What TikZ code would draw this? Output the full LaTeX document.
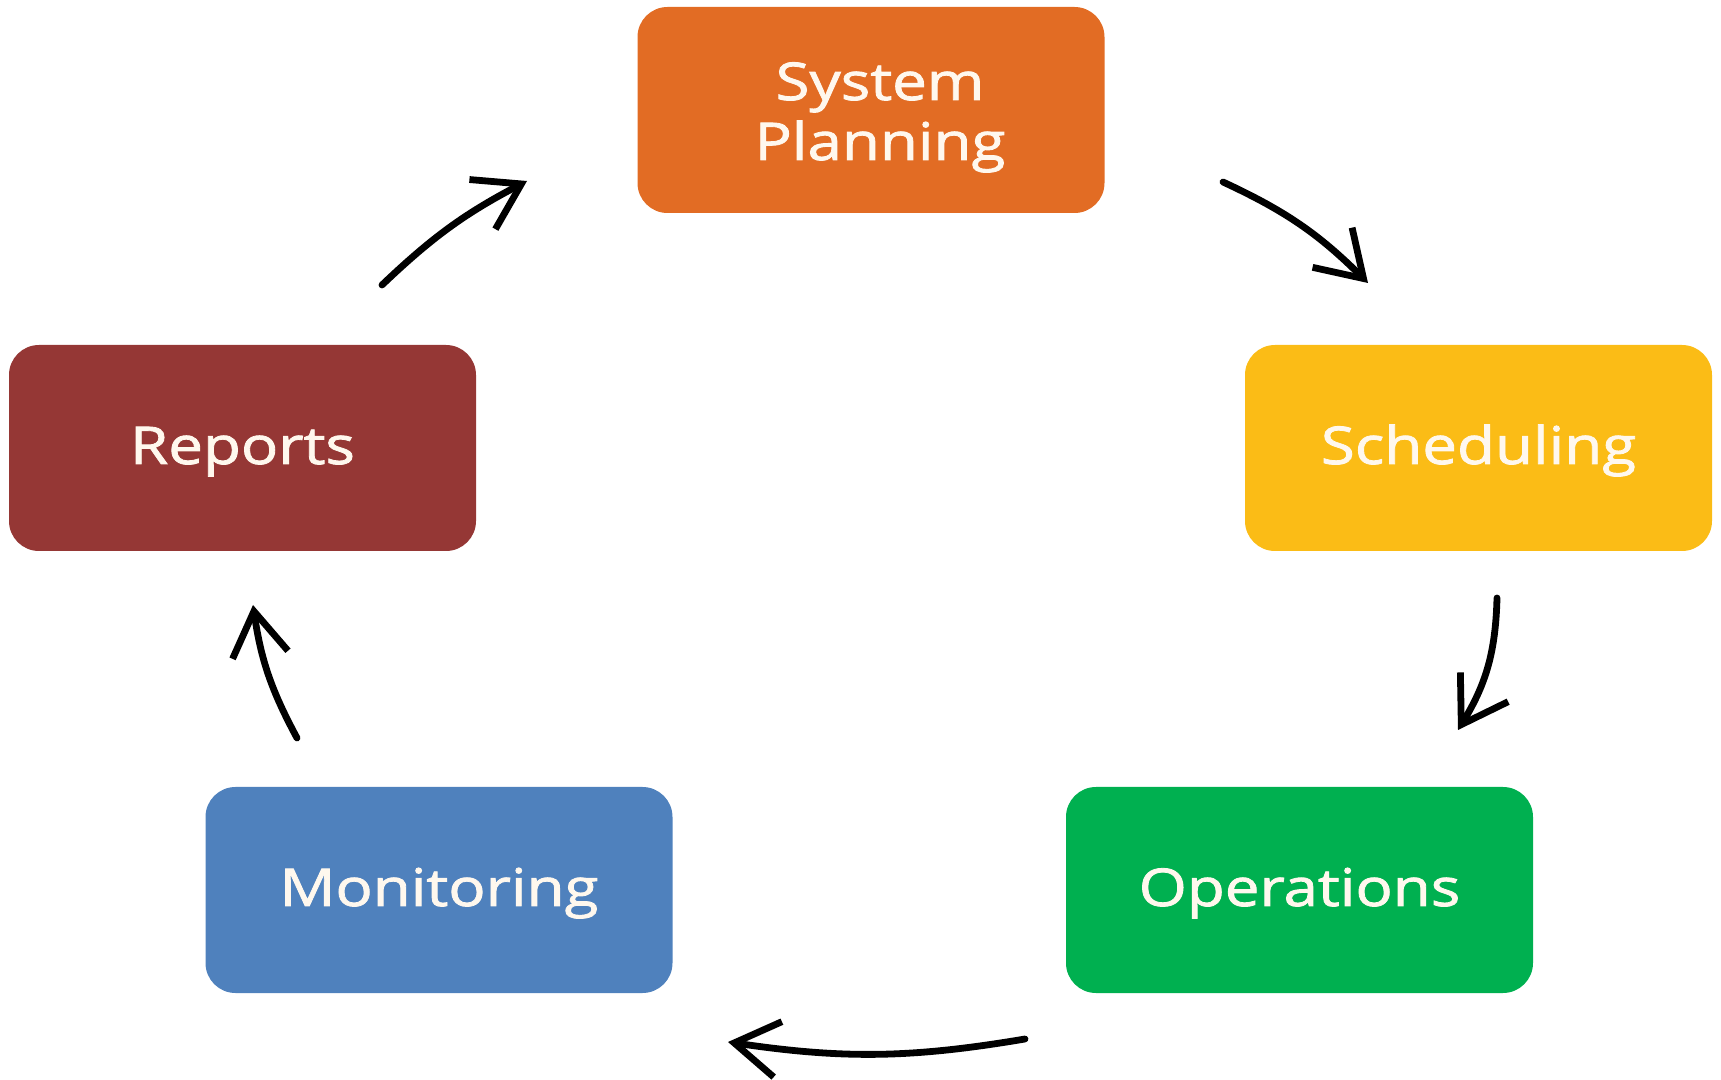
\documentclass[tikz,border=0pt]{standalone}
\usepackage{fontspec}
\setmainfont[FakeBold=1.6,FakeStretch=1.19]{Open Sans}
\usetikzlibrary{arrows.meta}
\definecolor{cplan}{HTML}{E26C24}
\definecolor{csched}{HTML}{FBBC16}
\definecolor{cops}{HTML}{00B050}
\definecolor{cmon}{HTML}{4F81BD}
\definecolor{crep}{HTML}{953735}
\definecolor{ctext}{HTML}{FFF8EE}
\newcommand\stagelabel[2]{\raisebox{#1}[\height][\depth]{\begin{tabular}{@{}c@{}}#2\end{tabular}}}
\tikzset{
  stage/.style={rectangle, rounded corners=15pt, minimum width=233.5pt, minimum height=103pt,
    inner sep=0pt, text=ctext, font=\fontsize{26}{30}\selectfont},
  flow/.style={line width=3.4pt, line cap=round, line join=round,
    -{Straight Barb[length=22pt,width=28pt,line width=3.4pt]}}
}
\begin{document}
\begin{tikzpicture}[x=0.5pt,y=-0.5pt]
\useasboundingbox (0,0) rectangle (1721,1080);
\node[stage, fill=cplan]  (plan)  at (871,110)    {\hspace*{9pt}\stagelabel{-4pt}{System\\Planning}};
\node[stage, fill=csched] (sched) at (1478.5,448) {\stagelabel{-2pt}{Scheduling}};
\node[stage, fill=cops]   (ops)   at (1299.5,890) {\stagelabel{-2pt}{Operations}};
\node[stage, fill=cmon]   (mon)   at (439,890)    {\stagelabel{-2pt}{Monitoring}};
\node[stage, fill=crep]   (rep)   at (242.5,448)  {\stagelabel{-2pt}{Reports}};
\coordinate (a1s) at (382,285);  \coordinate (a1e) at (527,181);
\coordinate (a2s) at (1223,182); \coordinate (a2e) at (1368,283);
\coordinate (a3s) at (1497,598); \coordinate (a3e) at (1458,730);
\coordinate (a4s) at (1025,1039);\coordinate (a4e) at (728,1042);
\coordinate (a5s) at (297,738);  \coordinate (a5e) at (253,605);
\draw[flow] (a1s) to[bend left=8] (a1e);
\draw[flow] (a2s) to[bend left=10] (a2e);
\draw[flow] (a3s) to[bend left=15] (a3e);
\draw[flow] (a4s) to[bend left=9] (a4e);
\draw[flow] (a5s) to[bend left=10] (a5e);
\end{tikzpicture}
\end{document}
